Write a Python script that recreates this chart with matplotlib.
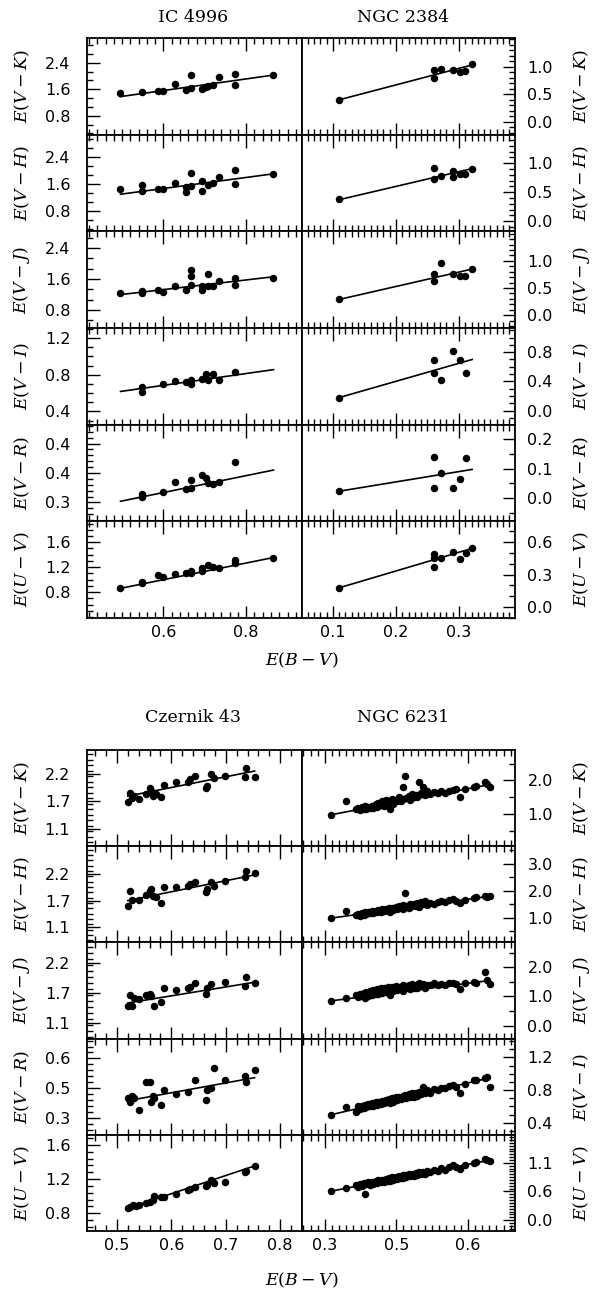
import numpy as np
import matplotlib.pyplot as plt
from matplotlib.ticker import FixedLocator, FixedFormatter, MultipleLocator

plt.rcParams['mathtext.fontset'] = 'dejavuserif'
plt.rcParams['font.family'] = 'DejaVu Sans'

# ---------------- IC 4996 ----------------
ic_vk_x = [0.496, 0.549, 0.587, 0.599, 0.627, 0.654, 0.666, 0.667, 0.694, 0.703, 0.707, 0.719, 0.734, 0.774, 0.774, 0.866]
ic_vk_y = [1.49, 1.53, 1.56, 1.56, 1.77, 1.58, 2.04, 1.64, 1.61, 1.67, 1.69, 1.72, 1.97, 2.07, 1.72, 2.03]
ic_vk_fit = [1.38, 2.03]
ic_vh_x = [0.496, 0.549, 0.549, 0.587, 0.599, 0.627, 0.654, 0.654, 0.666, 0.667, 0.694, 0.694, 0.707, 0.719, 0.734, 0.774, 0.774, 0.866]
ic_vh_y = [1.44, 1.58, 1.39, 1.46, 1.46, 1.62, 1.36, 1.51, 1.92, 1.53, 1.68, 1.39, 1.58, 1.62, 1.82, 2.00, 1.61, 1.90]
ic_vh_fit = [1.30, 1.90]
ic_vj_x = [0.496, 0.549, 0.549, 0.587, 0.599, 0.627, 0.654, 0.666, 0.666, 0.667, 0.694, 0.694, 0.707, 0.707, 0.719, 0.734, 0.774, 0.774, 0.866]
ic_vj_y = [1.24, 1.24, 1.29, 1.32, 1.26, 1.41, 1.31, 1.83, 1.68, 1.46, 1.43, 1.32, 1.73, 1.41, 1.43, 1.56, 1.64, 1.46, 1.64]
ic_vj_fit = [1.20, 1.66]
ic_vi_x = [0.549, 0.549, 0.599, 0.627, 0.654, 0.667, 0.667, 0.694, 0.703, 0.707, 0.719, 0.734, 0.774]
ic_vi_y = [0.665, 0.61, 0.70, 0.73, 0.72, 0.745, 0.70, 0.757, 0.81, 0.745, 0.81, 0.74, 0.83]
ic_vi_fit = [0.618, 0.856]
ic_vr_x = [0.549, 0.549, 0.599, 0.627, 0.654, 0.667, 0.667, 0.694, 0.703, 0.707, 0.719, 0.734, 0.774]
ic_vr_y = [0.3145, 0.309, 0.317, 0.335, 0.323, 0.338, 0.324, 0.347, 0.342, 0.3325, 0.332, 0.335, 0.368]
ic_vr_fit = [0.302, 0.355]
ic_uv_x = [0.496, 0.549, 0.549, 0.587, 0.599, 0.627, 0.654, 0.667, 0.667, 0.694, 0.694, 0.707, 0.719, 0.734, 0.774, 0.774, 0.866]
ic_uv_y = [0.87, 0.94, 0.965, 1.07, 1.035, 1.09, 1.10, 1.14, 1.11, 1.18, 1.14, 1.23, 1.205, 1.18, 1.31, 1.26, 1.35]
ic_uv_fit = [0.86, 1.355]
ic_fit_x = [0.496, 0.866]

# ---------------- NGC 2384 ----------------
n2_vk_x = [0.110, 0.260, 0.260, 0.271, 0.291, 0.301, 0.310, 0.321]
n2_vk_y = [0.40, 0.79, 0.945, 0.963, 0.945, 0.915, 0.927, 1.054]
n2_vk_fit = [0.40, 1.036]
n2_vh_x = [0.110, 0.260, 0.260, 0.271, 0.291, 0.291, 0.301, 0.310, 0.321]
n2_vh_y = [0.38, 0.73, 0.92, 0.776, 0.864, 0.758, 0.806, 0.806, 0.906]
n2_vh_fit = [0.37, 0.906]
n2_vj_x = [0.110, 0.260, 0.260, 0.271, 0.291, 0.301, 0.310, 0.321]
n2_vj_y = [0.29, 0.757, 0.636, 0.969, 0.757, 0.727, 0.727, 0.848]
n2_vj_fit = [0.29, 0.85]
n2_vi_x = [0.110, 0.260, 0.260, 0.271, 0.291, 0.301, 0.311]
n2_vi_y = [0.177, 0.699, 0.515, 0.415, 0.814, 0.69, 0.52]
n2_vi_fit = [0.18, 0.70]
n2_vr_x = [0.110, 0.260, 0.260, 0.271, 0.291, 0.301, 0.311]
n2_vr_y = [0.024, 0.138, 0.035, 0.084, 0.035, 0.065, 0.136]
n2_vr_fit = [0.024, 0.097]
n2_uv_x = [0.110, 0.260, 0.260, 0.260, 0.271, 0.291, 0.301, 0.311, 0.321]
n2_uv_y = [0.178, 0.487, 0.45, 0.365, 0.448, 0.508, 0.439, 0.494, 0.54]
n2_uv_fit = [0.178, 0.541]
n2_fit_x = [0.110, 0.321]

# ---------------- Czernik 43 ----------------
cz_vk_x = [0.520, 0.524, 0.528, 0.532, 0.541, 0.554, 0.560, 0.563, 0.567, 0.572, 0.581, 0.587, 0.608, 0.631, 0.635, 0.643, 0.663, 0.666, 0.673, 0.679, 0.698, 0.738, 0.735, 0.753]
cz_vk_y = [1.69, 1.87, 1.77, 1.80, 1.75, 1.84, 1.97, 1.90, 1.80, 1.84, 1.78, 2.03, 2.09, 2.09, 2.14, 2.21, 1.97, 2.01, 2.24, 2.16, 2.21, 2.37, 2.19, 2.19]
cz_vk_fit = [1.80, 2.30]
cz_vh_x = [0.520, 0.524, 0.528, 0.541, 0.554, 0.560, 0.563, 0.567, 0.572, 0.581, 0.587, 0.608, 0.631, 0.635, 0.643, 0.663, 0.666, 0.673, 0.679, 0.698, 0.735, 0.738, 0.753]
cz_vh_y = [1.59, 1.89, 1.72, 1.72, 1.82, 1.89, 1.93, 1.79, 1.77, 1.66, 1.99, 1.97, 2.01, 2.04, 2.09, 1.88, 1.93, 2.09, 2.01, 2.11, 2.19, 2.30, 2.26]
cz_vh_fit = [1.70, 2.23]
cz_vj_x = [0.520, 0.524, 0.528, 0.532, 0.541, 0.554, 0.560, 0.563, 0.569, 0.581, 0.587, 0.608, 0.631, 0.635, 0.643, 0.663, 0.666, 0.673, 0.698, 0.735, 0.738, 0.753]
cz_vj_y = [1.46, 1.65, 1.46, 1.60, 1.59, 1.65, 1.67, 1.63, 1.46, 1.53, 1.79, 1.74, 1.79, 1.81, 1.87, 1.68, 1.79, 1.85, 1.89, 1.83, 1.98, 1.87]
cz_vj_fit = [1.51, 1.89]
cz_vr_x = [0.520, 0.524, 0.528, 0.532, 0.541, 0.554, 0.560, 0.563, 0.566, 0.569, 0.581, 0.587, 0.608, 0.631, 0.643, 0.663, 0.666, 0.673, 0.679, 0.698, 0.735, 0.738, 0.753]
cz_vr_y = [0.40, 0.38, 0.41, 0.40, 0.34, 0.48, 0.48, 0.38, 0.41, 0.40, 0.365, 0.44, 0.42, 0.43, 0.49, 0.39, 0.44, 0.45, 0.55, 0.49, 0.51, 0.48, 0.54]
cz_vr_fit = [0.387, 0.503]
cz_uv_x = [0.520, 0.524, 0.529, 0.535, 0.541, 0.554, 0.560, 0.566, 0.569, 0.581, 0.587, 0.608, 0.631, 0.635, 0.643, 0.663, 0.666, 0.673, 0.679, 0.698, 0.735, 0.738, 0.753]
cz_uv_y = [0.86, 0.87, 0.90, 0.885, 0.90, 0.92, 0.935, 0.96, 1.00, 0.99, 0.99, 1.03, 1.07, 1.08, 1.105, 1.12, 1.13, 1.19, 1.15, 1.16, 1.28, 1.29, 1.35]
cz_uv_fit = [0.857, 1.355]
cz_fit_x = [0.520, 0.753]

# ---------------- NGC 6231 ----------------
n6_x = [0.309, 0.330, 0.344, 0.347, 0.349, 0.352, 0.355, 0.356, 0.358, 0.361, 0.363, 0.366, 0.368, 0.371, 0.373,
        0.375, 0.378, 0.380, 0.383, 0.385, 0.388, 0.390, 0.391, 0.394, 0.396, 0.399, 0.401, 0.404, 0.406, 0.409,
        0.410, 0.412, 0.414, 0.417, 0.419, 0.422, 0.424, 0.427, 0.429, 0.431, 0.434, 0.437, 0.440, 0.443, 0.447,
        0.452, 0.458, 0.463, 0.468, 0.474, 0.479, 0.483, 0.489, 0.496, 0.508, 0.512, 0.524, 0.527, 0.531]
n6_vk = [0.99, 1.39, 1.17, 1.20, 1.12, 1.21, 1.15, 1.24, 1.17, 1.23, 1.18, 1.25, 1.20, 1.30, 1.22,
         1.34, 1.28, 1.38, 1.25, 1.42, 1.33, 1.40, 1.15, 1.45, 1.30, 1.43, 1.38, 1.50, 1.40, 1.82,
         1.45, 2.12, 1.48, 1.55, 1.42, 1.60, 1.52, 1.58, 1.50, 1.95, 1.62, 1.80, 1.58, 1.68, 1.60,
         1.65, 1.62, 1.68, 1.62, 1.70, 1.72, 1.75, 1.52, 1.76, 1.80, 1.85, 1.95, 1.90, 1.80]
n6_vh = [0.99, 1.25, 1.10, 1.15, 1.08, 1.17, 1.12, 1.20, 1.14, 1.22, 1.16, 1.24, 1.18, 1.27, 1.20,
         1.30, 1.22, 1.32, 1.24, 1.34, 1.26, 1.36, 1.22, 1.38, 1.28, 1.40, 1.32, 1.43, 1.36, 1.46,
         1.33, 1.92, 1.45, 1.38, 1.50, 1.42, 1.52, 1.45, 1.55, 1.40, 1.58, 1.50, 1.62, 1.48, 1.56,
         1.50, 1.58, 1.62, 1.60, 1.65, 1.70, 1.62, 1.55, 1.66, 1.72, 1.76, 1.80, 1.78, 1.82]
n6_vj = [0.85, 0.95, 1.05, 0.98, 1.10, 1.00, 1.12, 0.96, 1.15, 1.02, 1.18, 1.05, 1.22, 1.08, 1.25,
         1.10, 1.28, 1.12, 1.30, 1.15, 1.32, 1.18, 1.05, 1.32, 1.20, 1.35, 1.22, 1.34, 1.25, 1.38,
         1.20, 1.36, 1.28, 1.40, 1.25, 1.42, 1.30, 1.40, 1.28, 1.45, 1.35, 1.44, 1.30, 1.40, 1.38,
         1.45, 1.38, 1.42, 1.40, 1.45, 1.48, 1.42, 1.26, 1.45, 1.50, 1.48, 1.84, 1.55, 1.44]
n6_vi = [0.50, 0.59, 0.537, 0.60, 0.57, 0.61, 0.58, 0.62, 0.59, 0.63, 0.60, 0.64, 0.61, 0.65, 0.62,
         0.66, 0.63, 0.67, 0.64, 0.68, 0.65, 0.69, 0.64, 0.70, 0.66, 0.71, 0.68, 0.72, 0.69, 0.73,
         0.70, 0.74, 0.70, 0.75, 0.71, 0.76, 0.72, 0.77, 0.73, 0.78, 0.75, 0.84, 0.76, 0.80, 0.77,
         0.81, 0.80, 0.83, 0.82, 0.85, 0.86, 0.84, 0.76, 0.88, 0.93, 0.92, 0.95, 0.96, 0.84]
n6_uv = [0.556, 0.62, 0.68, 0.64, 0.70, 0.66, 0.72, 0.51, 0.70, 0.73, 0.68, 0.74, 0.70, 0.76, 0.71,
         0.77, 0.73, 0.78, 0.74, 0.79, 0.76, 0.80, 0.75, 0.82, 0.77, 0.83, 0.79, 0.84, 0.80, 0.86,
         0.81, 0.87, 0.82, 0.88, 0.84, 0.89, 0.85, 0.91, 0.86, 0.92, 0.88, 0.93, 0.89, 0.95, 0.92,
         0.97, 0.95, 1.00, 0.97, 1.03, 1.05, 1.02, 0.99, 1.06, 1.10, 1.12, 1.18, 1.15, 1.14]
n6_fit_x = [0.309, 0.531]
n6_vk_fit = [0.99, 1.88]
n6_vh_fit = [0.99, 1.80]
n6_vj_fit = [0.85, 1.55]
n6_vi_fit = [0.50, 0.95]
n6_uv_fit = [0.556, 1.154]

# ---------------- layout ----------------
W, H = 596, 1292
fig = plt.figure(figsize=(W / 100, H / 100), dpi=100)
XL, XM, XR = 87, 302, 515


def make_ax(x0, x1, top, bot):
    return fig.add_axes([x0 / W, 1 - bot / H, (x1 - x0) / W, (bot - top) / H])


def draw(ax, x, y, fx, fy):
    ax.plot(fx, fy, color='black', lw=1.2, zorder=2)
    ax.plot(x, y, 'o', color='black', ms=5.4, mew=0, zorder=3)


def style(ax, xcfg, ycfg, side, ylab, show_x):
    xlim, xt, xtl, xmin = xcfg
    ylim, yt, ytl, ymin = ycfg
    ax.set_xlim(*xlim)
    ax.set_ylim(*ylim)
    ax.xaxis.set_major_locator(FixedLocator(xt))
    ax.xaxis.set_major_formatter(FixedFormatter(xtl))
    ax.xaxis.set_minor_locator(MultipleLocator(xmin))
    ax.yaxis.set_major_locator(FixedLocator(yt))
    ax.yaxis.set_major_formatter(FixedFormatter(ytl))
    ax.yaxis.set_minor_locator(MultipleLocator(ymin))
    for s in ax.spines.values():
        s.set_linewidth(1.3)
    ax.tick_params(which='both', direction='in', width=1.0, top=True, bottom=True)
    ax.tick_params(which='major', length=9)
    ax.tick_params(which='minor', length=4.3)
    ax.tick_params(axis='x', labelbottom=show_x, labelsize=11.5, pad=5)
    if side == 'left':
        ax.tick_params(axis='y', left=True, right=False, which='both', labelsize=11.5, pad=12)
        ax.yaxis.set_label_coords(-0.255, 0.5)
    else:
        ax.yaxis.tick_right()
        ax.yaxis.set_label_position('right')
        ax.tick_params(axis='y', left=False, right=True, which='both', labelsize=11.5, pad=9)
        ax.yaxis.set_label_coords(1.265, 0.5)
    ax.set_ylabel(ylab, fontsize=12.5, rotation=90)


lab = {'vk': r'$E(V-K)$', 'vh': r'$E(V-H)$', 'vj': r'$E(V-J)$',
       'vi': r'$E(V-I)$', 'vr': r'$E(V-R)$', 'uv': r'$E(U-V)$'}

# top block
x_ic = ((0.415, 0.935), [0.6, 0.8], ['0.6', '0.8'], 0.02)
x_n2 = ((0.051, 0.389), [0.1, 0.2, 0.3], ['0.1', '0.2', '0.3'], 0.01)
r08 = [0.8, 1.6, 2.4]
l08 = ['0.8', '1.6', '2.4']
top_left = [
    (ic_vk_x, ic_vk_y, ic_vk_fit, 'vk', ((0.23, 3.15), r08, l08, 0.8 / 3)),
    (ic_vh_x, ic_vh_y, ic_vh_fit, 'vh', ((0.21, 3.05), r08, l08, 0.8 / 3)),
    (ic_vj_x, ic_vj_y, ic_vj_fit, 'vj', ((0.34, 2.83), r08, l08, 0.8 / 3)),
    (ic_vi_x, ic_vi_y, ic_vi_fit, 'vi', ((0.256, 1.31), [0.4, 0.8, 1.2], ['0.4', '0.8', '1.2'], 0.1)),
    (ic_vr_x, ic_vr_y, ic_vr_fit, 'vr', ((0.268, 0.432), [0.30, 0.35, 0.40], ['0.3', '0.4', '0.4'], 0.01)),
    (ic_uv_x, ic_uv_y, ic_uv_fit, 'uv', ((0.384, 1.936), [0.8, 1.2, 1.6], ['0.8', '1.2', '1.6'], 0.1)),
]
r05 = [0.0, 0.5, 1.0]
l05 = ['0.0', '0.5', '1.0']
top_right = [
    (n2_vk_x, n2_vk_y, n2_vk_fit, 'vk', ((-0.236, 1.527), r05, l05, 0.1)),
    (n2_vh_x, n2_vh_y, n2_vh_fit, 'vh', ((-0.175, 1.49), r05, l05, 0.1)),
    (n2_vj_x, n2_vj_y, n2_vj_fit, 'vj', ((-0.236, 1.545), r05, l05, 0.1)),
    (n2_vi_x, n2_vi_y, n2_vi_fit, 'vi', ((-0.19, 1.13), [0.0, 0.4, 0.8], ['0.0', '0.4', '0.8'], 0.1)),
    (n2_vr_x, n2_vr_y, n2_vr_fit, 'vr', ((-0.077, 0.247), [0.0, 0.1, 0.2], ['0.0', '0.1', '0.2'], 0.05)),
    (n2_uv_x, n2_uv_y, n2_uv_fit, 'uv', ((-0.1, 0.79), [0.0, 0.3, 0.6], ['0.0', '0.3', '0.6'], 0.1)),
]
edges = np.linspace(38, 618, 7)
for i in range(6):
    last = i == 5
    x, y, fy, k, ycfg = top_left[i]
    ax = make_ax(XL, XM, edges[i], edges[i + 1])
    draw(ax, x, y, ic_fit_x, fy)
    style(ax, x_ic, ycfg, 'left', lab[k], last)
    x, y, fy, k, ycfg = top_right[i]
    ax = make_ax(XM, XR, edges[i], edges[i + 1])
    draw(ax, x, y, n2_fit_x, fy)
    style(ax, x_n2, ycfg, 'right', lab[k], last)

# bottom block
x_cz = ((0.445, 0.84), [0.5, 0.6, 0.7, 0.8], ['0.5', '0.6', '0.7', '0.8'], 0.02)
x_n6 = ((0.268, 0.566), [0.3, 0.4, 0.5], ['0.3', '0.5', '0.6'], 0.01)
r55 = [1.15, 1.70, 2.25]
l55 = ['1.1', '1.7', '2.2']
bot_left = [
    (cz_vk_x, cz_vk_y, cz_vk_fit, 'vk', ((0.80, 2.72), r55, l55, 0.11)),
    (cz_vh_x, cz_vh_y, cz_vh_fit, 'vh', ((0.84, 2.82), r55, l55, 0.11)),
    (cz_vj_x, cz_vj_y, cz_vj_fit, 'vj', ((0.857, 2.62), r55, l55, 0.11)),
    (cz_vr_x, cz_vr_y, cz_vr_fit, 'vr', ((0.215, 0.70), [0.3, 0.45, 0.6], ['0.3', '0.5', '0.6'], 0.03)),
    (cz_uv_x, cz_uv_y, cz_uv_fit, 'uv', ((0.59, 1.72), [0.8, 1.2, 1.6], ['0.8', '1.2', '1.6'], 0.08)),
]
bot_right = [
    (n6_vk, n6_vk_fit, 'vk', ((0.06, 2.9), [1.0, 2.0], ['1.0', '2.0'], 0.5)),
    (n6_vh, n6_vh_fit, 'vh', ((0.09, 3.65), [1.0, 2.0, 3.0], ['1.0', '2.0', '3.0'], 0.5)),
    (n6_vj, n6_vj_fit, 'vj', ((-0.45, 2.86), [0.0, 1.0, 2.0], ['0.0', '1.0', '2.0'], 0.5)),
    (n6_vi, n6_vi_fit, 'vi', ((0.254, 1.43), [0.4, 0.8, 1.2], ['0.4', '0.8', '1.2'], 0.1)),
    (n6_uv, n6_uv_fit, 'uv', ((-0.21, 1.64), [0.0, 0.55, 1.1], ['0.0', '0.6', '1.1'], 0.055)),
]
edges = np.linspace(750, 1231, 6)
for i in range(5):
    last = i == 4
    x, y, fy, k, ycfg = bot_left[i]
    ax = make_ax(XL, XM, edges[i], edges[i + 1])
    draw(ax, x, y, cz_fit_x, fy)
    style(ax, x_cz, ycfg, 'left', lab[k], last)
    y, fy, k, ycfg = bot_right[i]
    ax = make_ax(XM, XR, edges[i], edges[i + 1])
    draw(ax, n6_x, y, n6_fit_x, fy)
    style(ax, x_n6, ycfg, 'right', lab[k], last)

# titles and x labels
for txt, px, py in [('IC 4996', 193, 18), ('NGC 2384', 403, 18),
                    ('Czernik 43', 193, 718), ('NGC 6231', 403, 718)]:
    fig.text(px / W, 1 - py / H, txt, ha='center', va='center', family='DejaVu Serif', fontsize=12.5)
for py in (660, 1280):
    fig.text(302 / W, 1 - py / H, r'$E(B-V)$', ha='center', va='center', fontsize=12.5)

fig.savefig('out.png', dpi=100)
